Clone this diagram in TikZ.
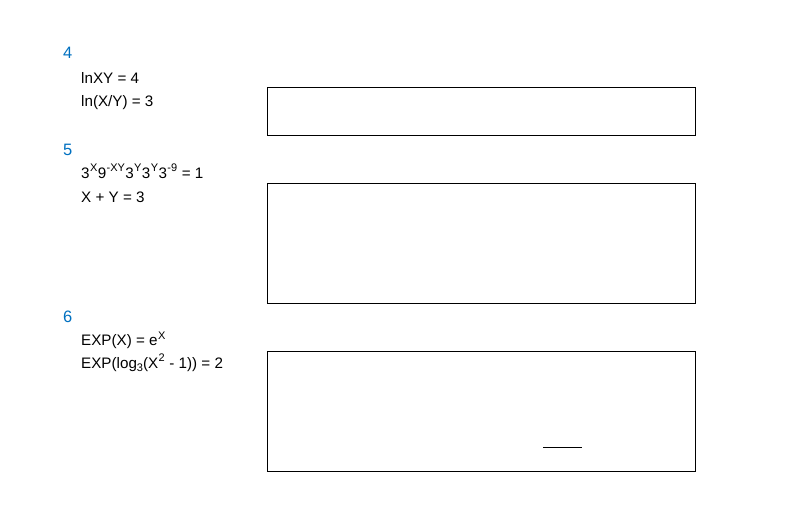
\documentclass[tikz,border=0pt]{standalone}
\usepackage{fontspec}
\setmainfont{Liberation Sans}
\definecolor{qblue}{HTML}{0070C0}
\newcommand\qsup[1]{\raisebox{0.42em}{\fontsize{11}{12}\selectfont\kern0.4pt #1\kern0.4pt}}
\newcommand\qsub[1]{\raisebox{-0.2em}{\fontsize{11}{12}\selectfont #1}}
\tikzset{
  qnum/.style={anchor=base west,inner sep=0,text=qblue,font=\fontsize{16.5}{18}\selectfont},
  qeq/.style={anchor=base west,inner sep=0,font=\fontsize{15.2}{16}\selectfont},
  ansbox/.style={draw,line width=0.9pt}
}
\begin{document}
\begin{tikzpicture}[x=1pt,y=-1pt]
\useasboundingbox (0,0) rectangle (799,525);
\node[qnum] (q4) at (63,58.3) {4};
\node[qeq] (q4a) at (81,83.3) {lnXY = 4};
\node[qeq] (q4b) at (81,106) {ln(X/Y) = 3};
\draw[ansbox] (267.3,87.3) rectangle (695,135);
\node[qnum] (q5) at (63,155) {5};
\node[qeq] (q5a) at (81,178.3) {3\qsup{X}9\qsup{-XY}3\qsup{Y}3\qsup{Y}3\qsup{-9} = 1};
\node[qeq] (q5b) at (81,202.3) {X + Y = 3};
\draw[ansbox] (267.3,183.3) rectangle (695,303);
\node[qnum] (q6) at (63,322.7) {6};
\node[qeq] (q6a) at (81,345.7) {EXP(X) = e\qsup{X}};
\node[qeq] (q6b) at (81,368.3) {EXP(log\qsub{3}(X\qsup{2} - 1)) = 2};
\draw[ansbox] (267.3,351) rectangle (695,471);
\draw[line width=0.9pt] (543.3,447) -- (581.7,447);
\end{tikzpicture}
\end{document}
